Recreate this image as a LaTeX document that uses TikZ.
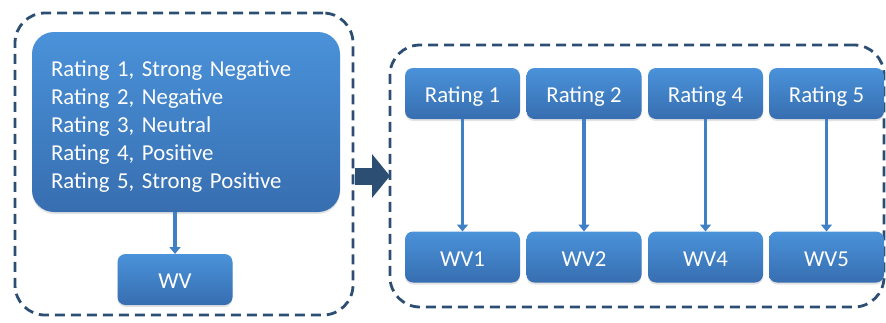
\documentclass[tikz,border=0pt]{standalone}
\usepackage{fontspec}
\setmainfont{Carlito}
\usetikzlibrary{arrows.meta,shadows}
\definecolor{navy}{RGB}{45,78,115}
\definecolor{topblue}{RGB}{74,146,218}
\definecolor{botblue}{RGB}{55,110,176}
\definecolor{arrblue}{RGB}{64,128,196}
\tikzset{
  boxbase/.style={draw=none, top color=topblue, bottom color=botblue,
    text=white, font=\fontsize{22.8}{28}\selectfont,
    inner sep=0pt, outer sep=0pt,
    drop shadow={opacity=0.22, shadow xshift=0pt, shadow yshift=-2pt}},
  box/.style={boxbase, rounded corners=8pt, minimum width=115pt, minimum height=51pt,
    text height=18.5pt, text depth=0pt},
  bigbox/.style={boxbase, rounded corners=22pt, minimum width=308pt, minimum height=180pt,
    align=left, text width=270pt},
  frame/.style={draw=navy, line width=2.8pt, dash pattern=on 10pt off 6pt, rounded corners=30pt,
    inner sep=0pt, outer sep=0pt},
  link/.style={draw=arrblue, line width=3.5pt, -{Triangle[width=11pt,length=7pt]}},
  bigarrow/.style={draw=navy, line width=17pt, -{Triangle[width=43pt,length=18pt]}}
}
\begin{document}
\begin{tikzpicture}[x=1pt,y=-1pt]
\useasboundingbox (0,0) rectangle (886,322);
% frames
\node[frame, minimum width=338pt, minimum height=302pt] (lb) at (184,164) {};
\node[frame, minimum width=494pt, minimum height=262pt] (rb) at (637,176) {};
% left group
\node[bigbox] (big) at (186,122) {\rule{0pt}{25pt}Rating 1, Strong Negative\\Rating 2, Negative\\Rating 3, Neutral\\Rating 4, Positive\\Rating 5, Strong Positive};
\node[box] (wv) at (175,279.5) {WV};
\draw[link] (wv.north |- big.south) -- (wv.north);
% right group
\node[box] (r1) at (462.5,93.5) {Rating 1};
\node[box] (r2) at (584,93.5) {Rating 2};
\node[box] (r4) at (705.5,93.5) {Rating 4};
\node[box] (r5) at (826.5,93.5) {Rating 5};
\node[box] (w1) at (462.5,257) {WV1};
\node[box] (w2) at (584,257) {WV2};
\node[box] (w4) at (705.5,257) {WV4};
\node[box] (w5) at (826.5,257) {WV5};
\foreach \a/\b in {r1/w1,r2/w2,r4/w4,r5/w5}
  \draw[link] (\a.south) -- (\b.north);
% big arrow between groups
\draw[bigarrow, shorten <=2pt] (lb.east |- rb.west) -- (rb.west);
\end{tikzpicture}
\end{document}
